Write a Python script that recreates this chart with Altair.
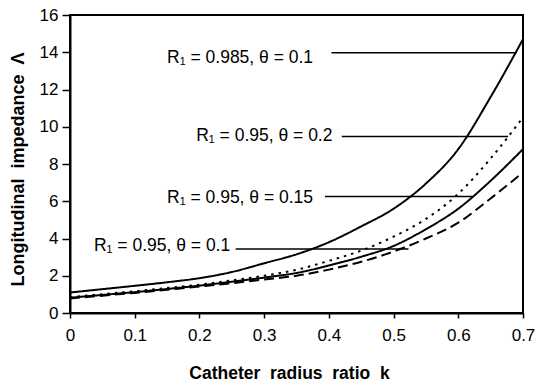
import altair as alt
import pandas as pd

# Curve data
k_vals = [0, 0.05, 0.1, 0.15, 0.2, 0.25, 0.3, 0.35, 0.4, 0.45, 0.5, 0.55, 0.6, 0.65, 0.7]
s_0985_01 = [1.1, 1.28, 1.46, 1.65, 1.87, 2.2, 2.67, 3.15, 3.8, 4.65, 5.6, 6.95, 8.8, 11.6, 14.7]
s_095_02 = [0.85, 1.01, 1.17, 1.34, 1.52, 1.75, 2.0, 2.32, 2.8, 3.35, 4.1, 5.05, 6.4, 8.3, 10.5]
s_095_015 = [0.82, 0.97, 1.12, 1.29, 1.47, 1.68, 1.9, 2.15, 2.55, 3.02, 3.6, 4.5, 5.6, 7.1, 8.8]
s_095_01 = [0.78, 0.93, 1.08, 1.25, 1.42, 1.6, 1.8, 2.0, 2.33, 2.75, 3.3, 4.0, 4.85, 6.15, 7.55]

series_names = ["R1=0.985, θ=0.1", "R1=0.95, θ=0.2", "R1=0.95, θ=0.15", "R1=0.95, θ=0.1"]
series_values = [s_0985_01, s_095_02, s_095_015, s_095_01]
series_dash = [[1, 0], [2.5, 5], [1, 0], [10, 5]]

# Annotations
label_texts = ["R₁ = 0.985, θ = 0.1", "R₁ = 0.95, θ = 0.2", "R₁ = 0.95, θ = 0.15", "R₁ = 0.95, θ = 0.1"]
label_k = [0.150, 0.195, 0.150, 0.037]
label_v = [13.44, 9.26, 5.93, 3.35]
leader_k1 = [0.404, 0.420, 0.394, 0.256]
leader_k2 = [0.690, 0.677, 0.623, 0.523]
leader_v = [13.97, 9.48, 6.25, 3.44]

x_ticks = [0, 0.1, 0.2, 0.3, 0.4, 0.5, 0.6, 0.7]
y_ticks = [0, 2, 4, 6, 8, 10, 12, 14, 16]

rows = []
for name, vals in zip(series_names, series_values):
    for k, v in zip(k_vals, vals):
        rows.append({"series": name, "k": k, "v": v})
df = pd.DataFrame(rows)

ann = pd.DataFrame({"text": label_texts, "k": label_k, "v": label_v})
lead = pd.DataFrame({"k1": leader_k1, "k2": leader_k2, "v": leader_v})

FONT = "Liberation Sans"

xs = alt.Scale(domain=[0, 0.7], nice=False, zero=False)
ys = alt.Scale(domain=[0, 16], nice=False, zero=False)

x_axis = alt.Axis(
    values=x_ticks, format=".1~f", title="Catheter\u00a0 radius\u00a0 ratio\u00a0 k",
    titleFont=FONT, titleFontSize=17.5, titleFontWeight="bold", titleColor="black",
    labelFont=FONT, labelFontSize=17, labelColor="black", labelPadding=9,
    tickSize=5, tickColor="black", tickWidth=1.5, domainColor="black", domainWidth=2,
    grid=False, titleX=219, titleY=65, titleBaseline="alphabetic", titleAnchor="middle",
    titleAlign="center", labelFlush=False, labelOverlap=False)
y_axis = alt.Axis(
    values=y_ticks, format="d", title="Longitudinal\u00a0 impedance\u00a0 Λ",
    titleFont=FONT, titleFontSize=18, titleFontWeight="bold", titleColor="black",
    labelFont=FONT, labelFontSize=17, labelColor="black", labelPadding=4,
    tickSize=8, tickColor="black", tickWidth=1.5, domainColor="black", domainWidth=2,
    grid=False, titleX=-52, titleY=154, titleBaseline="middle", titleAngle=-90,
    titleAlign="center", labelFlush=False, labelOverlap=False, labelBound=False)

lines = alt.Chart(df).mark_line(color="black", strokeWidth=2, interpolate="monotone").encode(
    x=alt.X("k:Q", scale=xs, axis=x_axis),
    y=alt.Y("v:Q", scale=ys, axis=y_axis),
    strokeDash=alt.StrokeDash("series:N", scale=alt.Scale(domain=series_names, range=series_dash), legend=None),
    detail="series:N",
)

leaders = alt.Chart(lead).mark_rule(color="black", strokeWidth=1.5).encode(
    x=alt.X("k1:Q", scale=xs, axis=x_axis), x2="k2:Q", y=alt.Y("v:Q", scale=ys, axis=y_axis)
)

texts = alt.Chart(ann).mark_text(align="left", baseline="alphabetic", font=FONT, fontSize=17.5, color="black").encode(
    x=alt.X("k:Q", scale=xs, axis=x_axis), y=alt.Y("v:Q", scale=ys, axis=y_axis), text="text:N"
)

chart = alt.layer(lines, leaders, texts).properties(
    width=453, height=298,
    autosize=alt.AutoSizeParams(type="none"),
    padding={"left": 70, "top": 15, "right": 13, "bottom": 70},
    background="white",
).configure_view(stroke="black", strokeWidth=2).configure_axis(labelOverlap=False)

chart.save("out.html", embed_options={"renderer": "svg", "actions": False})
